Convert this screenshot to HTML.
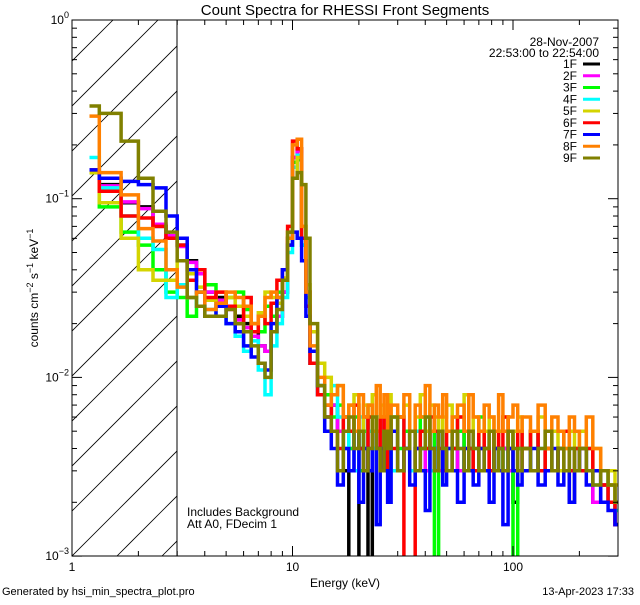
<!DOCTYPE html>
<html><head><meta charset="utf-8"><style>
body{margin:0;background:#fff;}
svg text{font-family:"Liberation Sans",sans-serif;fill:#000;}
</style></head><body>
<svg id="chart" width="640" height="600" viewBox="0 0 640 600">
<rect width="640" height="600" fill="#fff"/>
<defs>
<clipPath id="plotclip"><rect x="72" y="20" width="546" height="536"/></clipPath>
<clipPath id="hatchclip"><rect x="72" y="20" width="105" height="536"/></clipPath>
</defs>
<g id="hatch" clip-path="url(#hatchclip)"></g>
<line x1="177" y1="20" x2="177" y2="556" stroke="#000" stroke-width="1"/>
<g id="series" clip-path="url(#plotclip)"></g>
<g id="axes"></g>
<text x="345" y="15" font-size="15" text-anchor="middle">Count Spectra for RHESSI Front Segments</text>
<text x="599" y="46" font-size="12" text-anchor="end">28-Nov-2007</text>
<text x="599" y="57" font-size="12" text-anchor="end">22:53:00 to 22:54:00</text>
<g id="legend"></g>
<text x="187" y="516" font-size="12">Includes Background</text>
<text x="187" y="528" font-size="12">Att A0, FDecim 1</text>
<text x="345" y="587" font-size="12" text-anchor="middle">Energy (keV)</text>
<text transform="translate(38,288) rotate(-90)" font-size="12" text-anchor="middle">counts cm<tspan dy="-5" font-size="9">−2</tspan><tspan dy="5"> s</tspan><tspan dy="-5" font-size="9">−1</tspan><tspan dy="5"> keV</tspan><tspan dy="-5" font-size="9">−1</tspan></text>
<text x="2" y="595" font-size="11">Generated by hsi_min_spectra_plot.pro</text>
<text x="634" y="595" font-size="11" text-anchor="end">13-Apr-2023 17:33</text>
</svg>
<script>
const edgesLow=[1.2,1.33,1.67,2,2.33,2.67,3,3.33,3.67,4,4.5,5,5.5,6,6.5,7,7.5,8,8.5,9,9.5,10,10.5,11,11.5,12,13];
const edgesHigh=[14,15,16,17,18,19,20,21,22,23,24,25,26,27,28,30,32,34,36,38,40,42,44,46,48,50,53,56,60,63,66,70,74,78,82,86,90,95,100,105,110,120,130,140,150,160,170,180,190,200,215,230,250,270,290,310,330];
const edges=edgesLow.concat(edgesHigh);
const seriesNames=["1F","2F","3F","4F","5F","6F","7F","8F","9F"];
const seriesColors=["#000000","#ff00ff","#00ff00","#00ffff","#d4d400","#ff0000","#0000ff","#ff8000","#808000"];
const low1=[140,120,95,90,70,60,55,45,40,30,28,25,22,20,18,15,14,18,22,30,60,170,190,60,30,12,8];
const low2=[140,118,96,88,72,62,54,44,38,30,27,24,21,19,17,15,14,18,22,30,60,170,185,60,30,12,8];
const low3=[140,90,65,55,40,30,28,22,30,33,26,28,30,24,20,18,25,22,30,35,55,160,165,55,28,14,9];
const low4=[170,115,80,60,52,28,33,28,25,24,22,20,17,14,16,11,8,15,20,28,50,150,175,55,25,12,8];
const low5=[140,95,60,40,35,35,45,38,32,27,30,28,25,22,20,23,30,28,26,36,65,130,170,70,33,18,12];
const low6=[145,110,80,78,70,60,55,35,40,28,30,25,20,28,18,22,20,26,35,40,70,210,190,60,25,12,8];
const low7=[145,130,125,120,115,80,60,40,30,22,25,20,18,15,13,12,11,20,28,40,55,65,60,45,22,14,9];
const low8=[290,140,105,68,58,40,32,28,30,24,26,30,28,25,20,22,28,30,28,35,60,200,215,70,30,15,10];
const low9=[330,300,210,130,85,65,45,28,25,22,22,24,20,18,15,12,10,18,24,35,65,130,140,120,60,20,9];
const high1=[6,7,5,3,0.8,0.8,4,6,0.9,5,4,3,6,4,5,3,4,5,3,4,3,5,4,3,4,3,4,3,5,4,3,4,3,5,4,3,4,3,2,4,3,5,3,4,3,4,3,2,3,4,3,2,2.5,2,1.5,1.5];
const high2=[6,7,5,4,4,3,5,6,4,5,4,3,6,4,5,3,4,5,3,4,3,5,4,3,4,3,4,3,5,4,3,4,3,5,4,3,4,3,3,4,3,5,3,4,3,4,3,3,3,4,3,2,2.5,2,1.5,1.5];
const high3=[8,6,7,5,4,6,3,5,7,4,6,5,4,3,6,4,5,3,4,6,4,5,0.8,5,4,3,4,5,3,4,3,6,4,5,3,4,3,5,0.7,4,4,5,3,4,3,4,5,3,4,3,4,3,3,2.5,2,1.8];
const high4=[5,9,6,4,5,3,6,4,5,4,6,3,5,4,3,6,4,3,5,4,6,3,4,5,3,4,6,4,3,5,4,3,4,5,3,4,3,4,3,5,4,3,4,5,3,4,3,4,3,4,3,2.5,3,2,1.8,1.4];
const high5=[10,8,9,6,7,8,5,7,6,8,5,7,6,8,5,6,7,5,6,8,5,7,6,5,6,7,5,6,8,5,6,4,5,6,4,5,6,4,5,6,4,5,6,4,5,3,4,5,4,5,3,4,3,3,2.5,2];
const high6=[7,5,4,6,5,7,4,3,6,5,4,6,3,5,4,6,0.8,0.7,4,5,4,6,5,4,3,5,4,6,5,4,3,5,4,3,5,4,6,4,3,5,4,5,3,4,3,4,5,3,4,3,4,3,2.5,2,1.5,1.2];
const high7=[5,4,2.5,4,3,5,2,4,3,5,1.5,4,3,2,5,3,4,2.5,4,3,1.8,4,3,5,2.5,4,3,2,4,3,2.5,4,3,2,4,3,1.5,4,3,2.5,3,4,2.5,3,4,2.5,3,2,3,4,2.5,3,2,1.8,1.5,1.5];
const high8=[7,8,9,6,7,5,8,6,7,5,9,6,8,5,7,6,8,5,7,6,9,5,7,6,8,5,6,7,5,8,6,5,7,6,5,8,5,6,7,5,6,5,7,4,6,5,4,6,5,4,6,4,3,2.5,2,1.5];
const high9=[6,5,3,5,6,4,5,3,4,6,4,3,5,4,6,3,4,5,3,4,6,4,3,5,4,3,5,4,3,5,4,3,4,5,3,4,3,5,4,3,4,3,4,5,3,4,3,4,3,4,3,2.5,3,2.5,2,1.2];
const seriesData=[low1.concat(high1),low2.concat(high2),low3.concat(high3),low4.concat(high4),low5.concat(high5),low6.concat(high6),low7.concat(high7),low8.concat(high8),low9.concat(high9)];
const xTickVals=[1,10,100];
const xTickLabels=["1","10","100"];
const yTickExps=[0,-1,-2,-3];

const X0=72,X1=618,Y0=20,Y1=556,XD=220.5,YD=178.7;
const xs=e=>X0+Math.log10(e)*XD;
const ys=v=>Y0+(-Math.log10(v))*YD;
const NS="http://www.w3.org/2000/svg";
function mk(tag,attrs,parent){const el=document.createElementNS(NS,tag);for(const k in attrs)el.setAttribute(k,attrs[k]);parent.appendChild(el);return el;}

const hatch=document.getElementById('hatch');
for(let k=-12;k<4;k++){
  const x0=72+k*45;
  const l=mk('line',{x1:x0,y1:Y1,x2:x0+600,y2:Y1-600,stroke:'#000','stroke-width':0.8},hatch);
  
  
}

const sg=document.getElementById('series');
seriesData.forEach((vals,i)=>{
  let d='';
  vals.forEach((v,j)=>{
    if(j+1>=edges.length) return;
    const vv=Math.max(v*1e-3,5e-4);
    const y=ys(vv).toFixed(1),xa=xs(edges[j]).toFixed(1),xb=xs(edges[j+1]).toFixed(1);
    d+=(j===0?'M':'L')+xa+','+y+'L'+xb+','+y;
  });
  const p=mk('path',{d:d,fill:'none',stroke:seriesColors[i],'stroke-width':3.5,'stroke-linejoin':'miter'},sg);
  
  
});

const ax=document.getElementById('axes');
const fr=mk('rect',{x:X0,y:Y0,width:X1-X0,height:Y1-Y0,fill:'none',stroke:'#000','stroke-width':1},ax);


for(let dec=0;dec<3;dec++){
  for(let m=1;m<10;m++){
    const e=Math.pow(10,dec)*m;
    const x=xs(e); if(x>X1) continue;
    const len=m===1?10:5;
    const t1=mk('line',{x1:x,y1:Y1,x2:x,y2:Y1-len,stroke:'#000'},ax);
    
    
    const t2=mk('line',{x1:x,y1:Y0,x2:x,y2:Y0+len,stroke:'#000'},ax);
    
    
  }
}
xTickVals.forEach((v,i)=>{
  const t=mk('text',{x:xs(v),y:571,'font-size':12,'text-anchor':'middle'},ax);
  t.textContent=xTickLabels[i];
  
  
});
for(let ex=-3;ex<=0;ex++){
  for(let m=1;m<10;m++){
    if(ex===0&&m>1) break;
    const y=ys(Math.pow(10,ex)*m);
    const len=m===1?10:5;
    const a=mk('line',{x1:X0,y1:y,x2:X0+len,y2:y,stroke:'#000'},ax);
    
    
    const b=mk('line',{x1:X1,y1:y,x2:X1-len,y2:y,stroke:'#000'},ax);
    
    
  }
}
yTickExps.forEach(ex=>{
  const y=ys(Math.pow(10,ex));
  const t=mk('text',{x:X0-3,y:y+4,'font-size':12,'text-anchor':'end'},ax);
  t.innerHTML='10<tspan dy="-6" font-size="9">'+(ex===0?'0':'−'+(-ex))+'</tspan>';
  
  
});

const lg=document.getElementById('legend');
seriesNames.forEach((n,i)=>{
  const y=64+i*11.75;
  const t=mk('text',{x:577,y:y+4,'font-size':12,'text-anchor':'end'},lg);
  t.textContent=n;
  
  
  const l=mk('line',{x1:583,y1:y,x2:600,y2:y,stroke:seriesColors[i],'stroke-width':3},lg);
  
  
});
</script>
</body></html>
